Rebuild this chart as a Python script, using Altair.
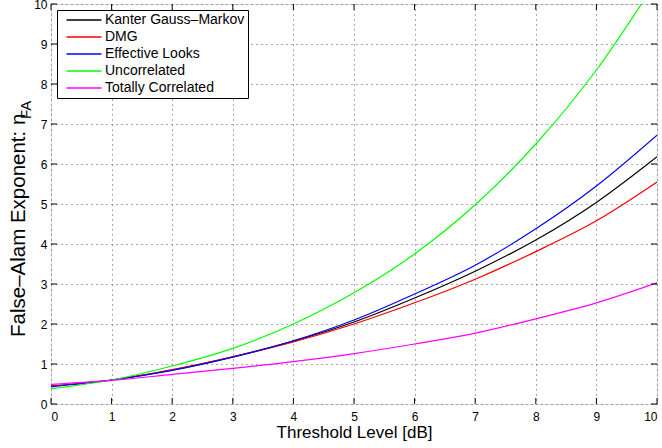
import altair as alt
import pandas as pd

x_vals = [0, 1, 2, 3, 4, 5, 6, 7, 8, 9, 10]
kanter = [0.45, 0.60, 0.85, 1.18, 1.57, 2.05, 2.65, 3.32, 4.10, 5.04, 6.18]
dmg = [0.45, 0.60, 0.86, 1.18, 1.55, 2.00, 2.53, 3.12, 3.81, 4.58, 5.55]
eff_looks = [0.43, 0.60, 0.84, 1.17, 1.58, 2.10, 2.75, 3.47, 4.38, 5.45, 6.72]
uncorr = [0.38, 0.60, 0.95, 1.39, 2.00, 2.78, 3.75, 4.98, 6.50, 8.35, 10.60]
tot_corr = [0.49, 0.59, 0.74, 0.89, 1.06, 1.26, 1.50, 1.77, 2.13, 2.53, 3.03]

series = ["Kanter Gauss\u2013Markov", "DMG", "Effective Looks", "Uncorrelated", "Totally Correlated"]
colors = ["#000000", "#ff0000", "#0000ff", "#00ff00", "#ff00ff"]
values = [kanter, dmg, eff_looks, uncorr, tot_corr]

ticks = [0, 1, 2, 3, 4, 5, 6, 7, 8, 9, 10]

rows = []
for i, (name, vals) in enumerate(zip(series, values)):
    for xv, yv in zip(x_vals, vals):
        rows.append({"x": xv, "y": yv, "series": name, "order": i})
df = pd.DataFrame(rows)

FONT = "Liberation Sans"
xs = alt.Scale(domain=[0, 10], nice=False, zero=False)
ys = alt.Scale(domain=[0, 10], nice=False, zero=False)

xaxis = alt.Axis(values=ticks, format="d", title="Threshold Level [dB]",
                 grid=True, gridDash=[1, 4], gridColor="#555555",
                 domain=False, ticks=False, labelFontSize=12,
                 labelPadding=7, labelFont=FONT, labelColor="#000",
                 labelOverlap=False,
                 titleFont=FONT, titleFontSize=17, titleFontWeight="normal",
                 titleColor="#000", titlePadding=2)
yaxis = alt.Axis(values=ticks, format="d", title=None,
                 grid=True, gridDash=[1, 4], gridColor="#555555",
                 domain=False, ticks=False, labelFontSize=12,
                 labelOverlap=False,
                 labelPadding=4, labelFont=FONT, labelColor="#000")

lines = alt.Chart(df).mark_line(strokeWidth=1.2, clip=True, interpolate="monotone").encode(
    x=alt.X("x:Q", scale=xs, axis=xaxis),
    y=alt.Y("y:Q", scale=ys, axis=yaxis),
    color=alt.Color("series:N", scale=alt.Scale(domain=series, range=colors), sort=series,
                    legend=alt.Legend(title=None, orient="none", legendX=6, legendY=6,
                                      symbolType="M-3,0H3", symbolSize=136, symbolStrokeWidth=1.3,
                                      labelFontSize=14, labelFont=FONT, labelColor="#000",
                                      fillColor="white", strokeColor="black", padding=3,
                                      symbolOffset=17, labelOffset=14, rowPadding=3)),
    order=alt.Order("order:Q"),
)

tick_df = pd.DataFrame({"t": ticks})
tick_style = dict(color="black", strokeWidth=1)
bottom = alt.Chart(tick_df).mark_rule(**tick_style).encode(
    x=alt.X("t:Q", scale=xs, axis=xaxis), y=alt.datum(0, scale=ys, axis=yaxis), y2=alt.datum(0.15))
top = alt.Chart(tick_df).mark_rule(**tick_style).encode(
    x=alt.X("t:Q", scale=xs, axis=xaxis), y=alt.datum(10, scale=ys, axis=yaxis), y2=alt.datum(9.85))
left = alt.Chart(tick_df).mark_rule(**tick_style).encode(
    y=alt.Y("t:Q", scale=ys, axis=yaxis), x=alt.datum(0, scale=xs, axis=xaxis), x2=alt.datum(0.1))
right = alt.Chart(tick_df).mark_rule(**tick_style).encode(
    y=alt.Y("t:Q", scale=ys, axis=yaxis), x=alt.datum(10, scale=xs, axis=xaxis), x2=alt.datum(9.9))

ytitle_main = alt.Chart(pd.DataFrame({"t": ["False\u2013Alam Exponent: n"]})).mark_text(
    angle=270, align="left", baseline="middle", font=FONT, fontSize=20.5, color="black"
).encode(text="t:N", x=alt.value(-32), y=alt.value(333))
ytitle_sub = alt.Chart(pd.DataFrame({"t": ["FA"]})).mark_text(
    angle=270, align="left", baseline="middle", font=FONT, fontSize=15, color="black"
).encode(text="t:N", x=alt.value(-25), y=alt.value(115))

chart = alt.layer(lines, bottom, top, left, right, ytitle_main, ytitle_sub).properties(
    width=606, height=400,
    autosize=alt.AutoSizeParams(type="none"),
    padding={"left": 51, "top": 4, "right": 5, "bottom": 44},
).configure_view(stroke="black", strokeWidth=1.5).configure(background="white")

chart.save("out.html", embed_options={"renderer": "svg", "actions": False})
